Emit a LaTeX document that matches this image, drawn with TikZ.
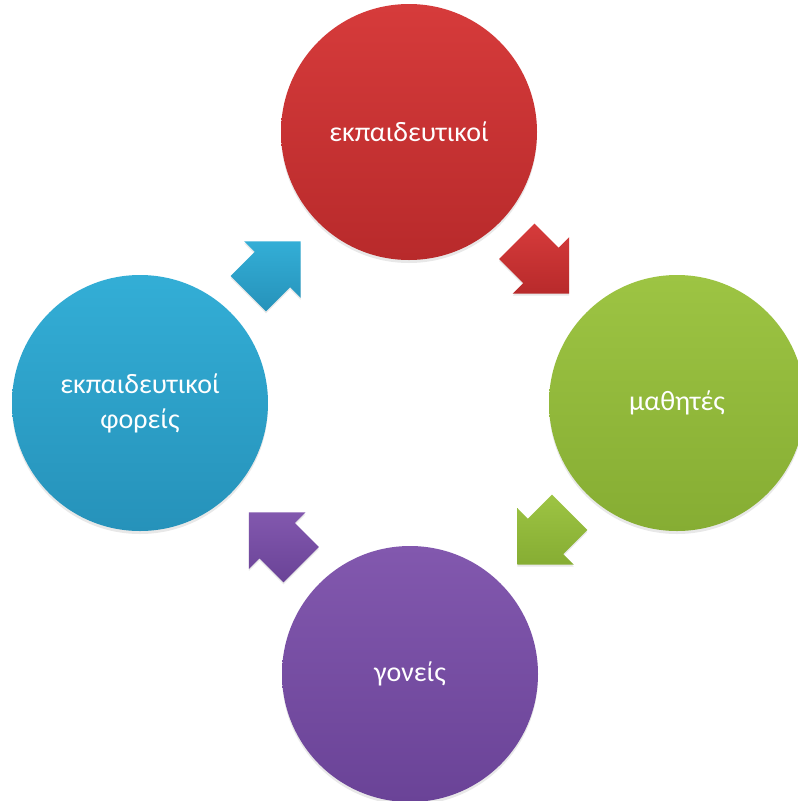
\documentclass[tikz,border=0pt]{standalone}
\usepackage{fontspec}
\setmainfont{Carlito}
\usetikzlibrary{shadows,calc}
\definecolor{redT}{HTML}{D63B3B}
\definecolor{redB}{HTML}{B82A2B}
\definecolor{grnT}{HTML}{9DC443}
\definecolor{grnB}{HTML}{86AD33}
\definecolor{purT}{HTML}{8258AE}
\definecolor{purB}{HTML}{6A4397}
\definecolor{bluT}{HTML}{33AED6}
\definecolor{bluB}{HTML}{2692BA}
\tikzset{
  bubble/.style={circle, minimum size=256pt, inner sep=0pt, text=white,
    font=\fontsize{28}{35}\selectfont, align=center,
    drop shadow={opacity=0.18, shadow xshift=0pt, shadow yshift=-3pt}},
  pics/blockarr/.style={code={
    \path[pic actions, drop shadow={opacity=0.18, shadow xshift=0pt, shadow yshift=-2pt}]
      (-37,-25) -- (-3,-25) -- (-3,-40) -- (37,0) -- (-3,40) -- (-3,25) -- (-37,25) -- cycle;
  }},
}
\begin{document}
\begin{tikzpicture}[x=1pt,y=-1pt]
  \useasboundingbox (0,0) rectangle (798,801);
  \fill[white] (0,0) rectangle (798,801);
  \clip (0,0) rectangle (798,801);
  \node[bubble, top color=redT, bottom color=redB] (red) at (409,132) {εκπαιδευτικοί};
  \node[bubble, top color=grnT, bottom color=grnB] (grn) at (677,403) {μαθητές};
  \node[bubble, top color=purT, bottom color=purB] (pur) at (410,674) {γονείς};
  \node[bubble, top color=bluT, bottom color=bluB] (blu) at (140,403) {εκπαιδευτικοί\\φορείς};
  \pic[rotate=-45, top color=redT, bottom color=redB] (a1) at ($(red)!0.5!(grn)$) {blockarr};
  \pic[rotate=-135, top color=grnT, bottom color=grnB] (a2) at ($(grn)!0.5!(pur)$) {blockarr};
  \pic[rotate=135, top color=purT, bottom color=purB] (a3) at ($(pur)!0.5!(blu)$) {blockarr};
  \pic[rotate=45, top color=bluT, bottom color=bluB] (a4) at ($(blu)!0.5!(red)$) {blockarr};
\end{tikzpicture}
\end{document}
